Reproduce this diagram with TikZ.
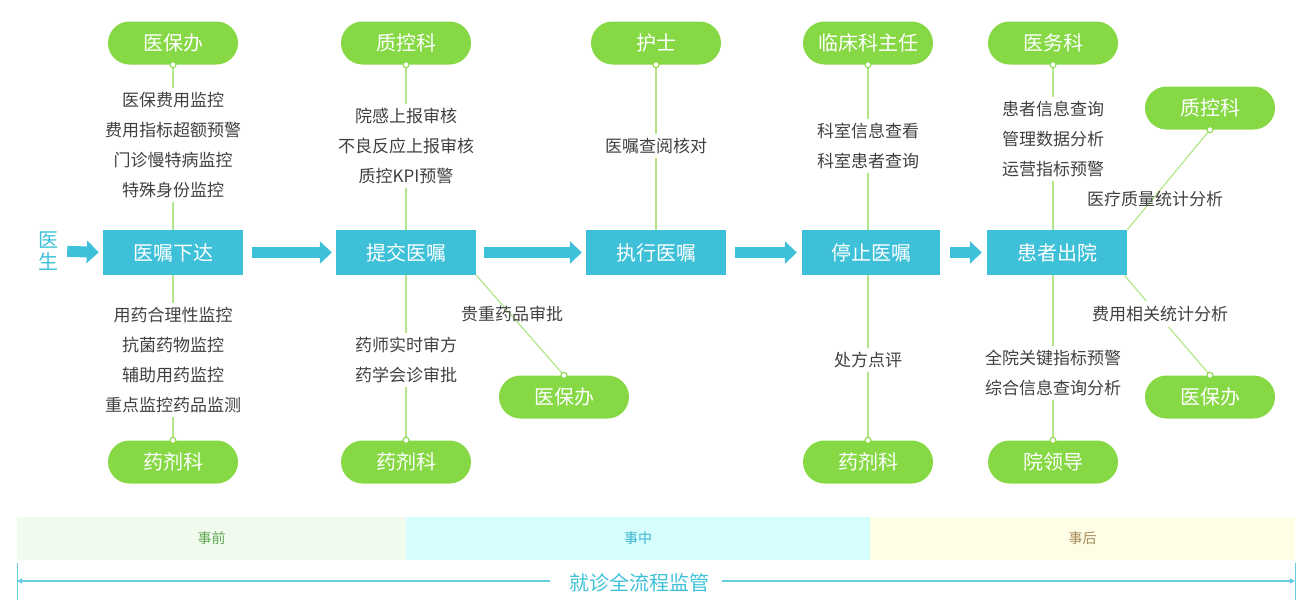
\documentclass[tikz,border=0pt]{standalone}
\usepackage{fontspec}
\setmainfont{Noto Sans CJK SC}
\usetikzlibrary{arrows.meta,backgrounds}
\definecolor{boxblue}{HTML}{3EC1D8}
\definecolor{pillgreen}{HTML}{86D944}
\definecolor{linegreen}{HTML}{B2E68A}
\definecolor{txtgray}{HTML}{404040}
\definecolor{bandA}{HTML}{F0FBEE}
\definecolor{bandB}{HTML}{D6FEFE}
\definecolor{bandC}{HTML}{FEFDE6}
\definecolor{bandAtxt}{HTML}{62A655}
\definecolor{bandBtxt}{HTML}{3CB6CF}
\definecolor{bandCtxt}{HTML}{A8895A}
\begin{document}
\begin{tikzpicture}[x=1pt,y=-1pt,
  box/.style={rectangle, fill=boxblue, text=white, minimum width=140pt, minimum height=45pt, font=\fontsize{20}{24}\selectfont, inner sep=0pt},
  pill/.style={rectangle, rounded corners=21.5pt, fill=pillgreen, text=white, minimum width=130pt, minimum height=43pt, font=\fontsize{20}{24}\selectfont, inner sep=0pt},
  lbl/.style={text=txtgray, font=\fontsize{17}{30}\selectfont, align=center, inner sep=4pt},
  conn/.style={draw=linegreen, line width=1.2pt},
  dot/.style={circle, fill=white, draw=pillgreen, line width=1pt, minimum size=6pt, inner sep=0pt},
  bigarrow/.style={draw=boxblue, line width=11pt, -{Triangle[length=12pt,width=22pt]}},
  band/.style={rectangle, minimum height=43pt, inner sep=0pt, font=\fontsize{14}{16}\selectfont},
  axis/.style={draw=boxblue!80, line width=1.2pt}
]
\useasboundingbox (0,0) rectangle (1308,613);

% main boxes
\node[box] (b1) at (173,252.5) {医嘱下达};
\node[box] (b2) at (406,252.5) {提交医嘱};
\node[box] (b3) at (656,252.5) {执行医嘱};
\node[box, minimum width=138pt] (b4) at (871,252.5) {停止医嘱};
\node[box] (b5) at (1057,252.5) {患者出院};

% doctor
\node[text=boxblue, font=\fontsize{20}{22}\selectfont, align=center, inner sep=0pt] (doc) at (48,251) {医\\生};

% big arrows
\draw[bigarrow, shorten <=9pt, shorten >=4pt] (doc.east) -- (b1.west);
\draw[bigarrow, shorten <=9pt, shorten >=4pt] (b1.east) -- (b2.west);
\draw[bigarrow, shorten <=8pt, shorten >=4pt] (b2.east) -- (b3.west);
\draw[bigarrow, shorten <=9pt, shorten >=5pt] (b3.east) -- (b4.west);
\draw[bigarrow, shorten <=10pt, shorten >=5pt] (b4.east) -- (b5.west);

% pills top
\node[pill] (p1) at (173,43) {医保办};
\node[pill] (p2) at (406,43) {质控科};
\node[pill] (p3) at (656,43) {护士};
\node[pill] (p4) at (868,43) {临床科主任};
\node[pill] (p5) at (1053,43) {医务科};
% pills bottom
\node[pill] (q1) at (173,462) {药剂科};
\node[pill] (q2) at (406,462) {药剂科};
\node[pill] (q4) at (868,462) {药剂科};
\node[pill] (q5) at (1053,462) {院领导};
% extra pills
\node[pill] (e1) at (564,397) {医保办};
\node[pill] (e2) at (1210,108) {质控科};
\node[pill] (e3) at (1210,397) {医保办};

% labels top
\node[lbl] (t1) at (173,145) {医保费用监控\\费用指标超额预警\\门诊慢特病监控\\特殊身份监控};
\node[lbl] (t2) at (406,146) {院感上报审核\\不良反应上报审核\\质控KPI预警};
\node[lbl] (t3) at (656,146) {医嘱查阅核对};
\node[lbl] (t4) at (868,146) {科室信息查看\\科室患者查询};
\node[lbl] (t5) at (1053,139) {患者信息查询\\管理数据分析\\运营指标预警};
% labels bottom
\node[lbl] (u1) at (173,360) {用药合理性监控\\抗菌药物监控\\辅助用药监控\\重点监控药品监测};
\node[lbl] (u2) at (406,360) {药师实时审方\\药学会诊审批};
\node[lbl] (u4) at (868,360) {处方点评};
\node[lbl] (u5) at (1053,373) {全院关键指标预警\\综合信息查询分析};

% top connectors
\foreach \p/\t/\b in {p1/t1/b1, p2/t2/b2, p3/t3/b3, p4/t4/b4, p5/t5/b5}{
  \draw[conn] (\p.south) -- (\t.north);
  \draw[conn] (\t.south) -- (\t.south |- \b.north);
}
% bottom connectors
\foreach \q/\u/\b in {q1/u1/b1, q2/u2/b2, q4/u4/b4, q5/u5/b5}{
  \draw[conn] (\u.north |- \b.south) -- (\u.north);
  \draw[conn] (\u.south) -- (\q.north);
}

% diagonal connectors
\draw[conn] (b2.south east) -- (e1.north);
\draw[conn] (b5.north east) -- (e2.south);
\draw[conn] ([xshift=-3pt]b5.south east) -- (e3.north);

\node[lbl, inner sep=0pt] (d1) at (512,314) {贵重药品审批};
\node[lbl, inner sep=0pt] (d2) at (1155,199) {医疗质量统计分析};
\node[lbl, fill=white, inner xsep=1pt, inner ysep=5pt] (d3) at (1160,314) {费用相关统计分析};

% dots
\foreach \n in {p1.south,p2.south,p3.south,p4.south,p5.south,q1.north,q2.north,q4.north,q5.north,e1.north,e2.south,e3.north}{
  \node[dot] at (\n) {};
}

% bands
\node[band, fill=bandA, text=bandAtxt, minimum width=389pt] (ba) at (211.5,538.5) {事前};
\node[band, fill=bandB, text=bandBtxt, minimum width=464pt] (bb) at (638,538.5) {事中};
\node[band, fill=bandC, text=bandCtxt, minimum width=425pt] (bc) at (1082.5,538.5) {事后};

% bottom axis
\node[text=boxblue, font=\fontsize{20}{24}\selectfont, inner sep=0pt] (ax) at (639.5,583) {就诊全流程监管};
\coordinate (L) at (17,581);
\coordinate (R) at (1295,581);
\coordinate (Lt) at (17,563);
\coordinate (Lb) at (17,600);
\coordinate (Rt) at (1295,563);
\coordinate (Rb) at (1295,600);
\draw[axis, line width=0.8pt] (Lt) -- (Lb);
\draw[axis, line width=0.8pt] (Rt) -- (Rb);
\draw[axis, -{Triangle[length=5pt,width=5pt]}] ([xshift=-19pt]ax.west |- L) -- (L);
\draw[axis, -{Triangle[length=5pt,width=5pt]}] ([xshift=12pt]ax.east |- R) -- (R);
\end{tikzpicture}
\end{document}
